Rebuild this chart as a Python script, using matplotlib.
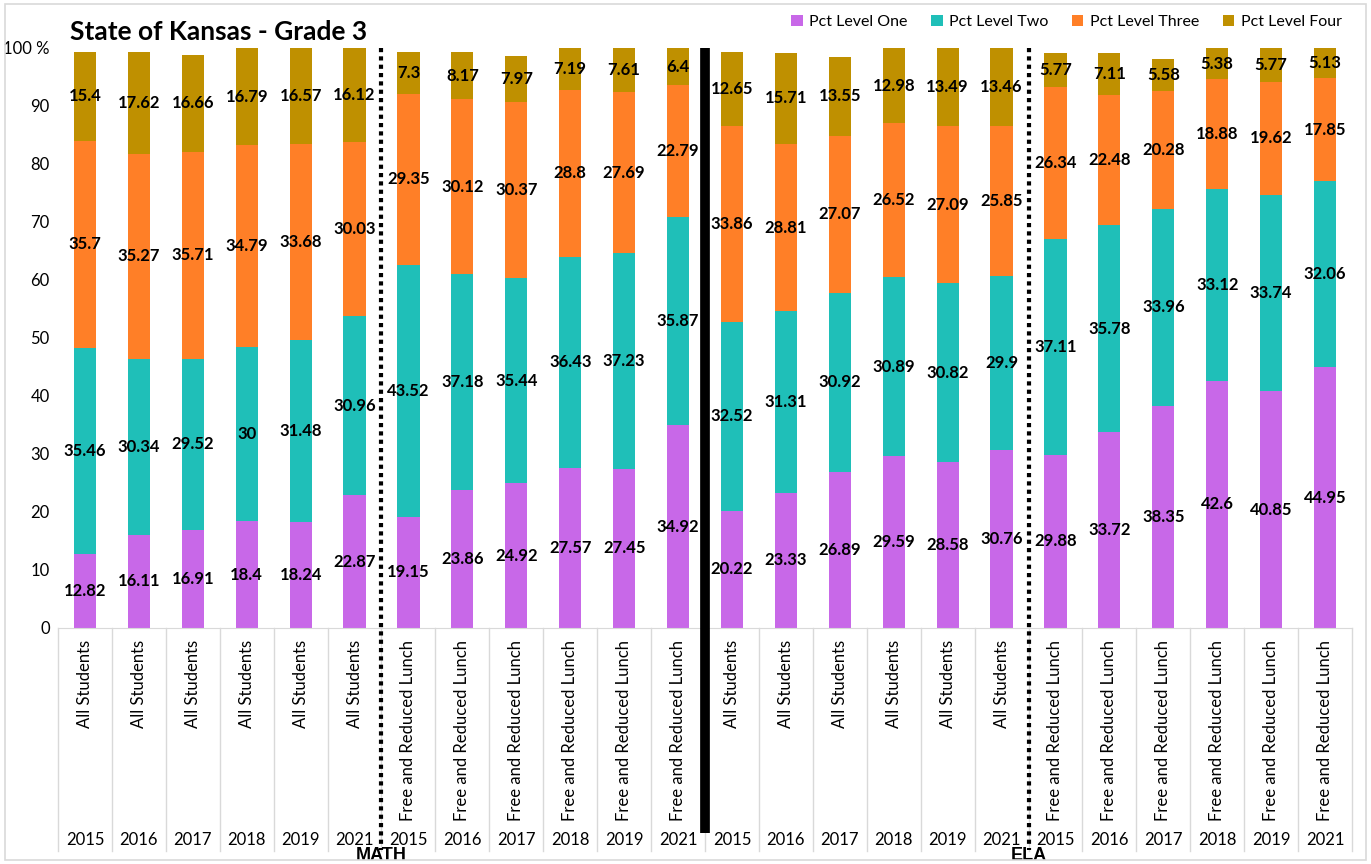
import matplotlib
matplotlib.use("Agg")
import matplotlib.pyplot as plt
import matplotlib.transforms as mtransforms
from matplotlib.patches import Rectangle
import numpy as np

plt.rcParams['font.family'] = ['Lato', 'DejaVu Sans']

groups = ["MATH", "ELA"]
subgroups = ["All Students", "Free and Reduced Lunch"]
years = ["2015", "2016", "2017", "2018", "2019", "2021"]

level_one = [12.82, 16.11, 16.91, 18.4, 18.24, 22.87, 19.15, 23.86, 24.92, 27.57, 27.45, 34.92,
             20.22, 23.33, 26.89, 29.59, 28.58, 30.76, 29.88, 33.72, 38.35, 42.6, 40.85, 44.95]
level_two = [35.46, 30.34, 29.52, 30, 31.48, 30.96, 43.52, 37.18, 35.44, 36.43, 37.23, 35.87,
             32.52, 31.31, 30.92, 30.89, 30.82, 29.9, 37.11, 35.78, 33.96, 33.12, 33.74, 32.06]
level_three = [35.7, 35.27, 35.71, 34.79, 33.68, 30.03, 29.35, 30.12, 30.37, 28.8, 27.69, 22.79,
               33.86, 28.81, 27.07, 26.52, 27.09, 25.85, 26.34, 22.48, 20.28, 18.88, 19.62, 17.85]
level_four = [15.4, 17.62, 16.66, 16.79, 16.57, 16.12, 7.3, 8.17, 7.97, 7.19, 7.61, 6.4,
              12.65, 15.71, 13.55, 12.98, 13.49, 13.46, 5.77, 7.11, 5.58, 5.38, 5.77, 5.13]

series_names = ["Pct Level One", "Pct Level Two", "Pct Level Three", "Pct Level Four"]
series = [level_one, level_two, level_three, level_four]
colors = ["#C868E8", "#1FBFB8", "#FF7F27", "#BF9000"]

W, H = 1371, 864
fig = plt.figure(figsize=(W / 100, H / 100), dpi=100)
fig.patches.append(Rectangle((5 / W, 4 / H), (W - 10) / W, (H - 8) / H, transform=fig.transFigure,
                             fill=False, edgecolor="#D9D9D9", linewidth=1.2))

left, right, top, bottom = 58, 1352, 48, 628
ax = fig.add_axes([left / W, (H - bottom) / H, (right - left) / W, (bottom - top) / H])

n = len(level_one)
x = np.arange(n)
bottoms = np.zeros(n)
for name, vals, c in zip(series_names, series, colors):
    bars = ax.bar(x, vals, 0.41, bottom=bottoms, color=c, label=name, zorder=2)
    ax.bar_label(bars, labels=[f"{v:g}" for v in vals], label_type="center",
                 fontsize=12, fontweight="bold", color="black")
    bottoms += np.array(vals)

ax.set_xlim(-0.5, n - 0.5)
ax.set_ylim(0, 100)
ax.set_yticks(range(0, 101, 10))
ax.set_yticklabels([str(v) for v in range(0, 100, 10)] + ["100 %"], fontsize=12)
ax.tick_params(axis="y", length=0, pad=6)
ax.set_xticks([])
for s in ["top", "right", "left"]:
    ax.spines[s].set_visible(False)
ax.spines["bottom"].set_color("#D9D9D9")

trans = mtransforms.blended_transform_factory(ax.transData, fig.transFigure)
def fy(ypix):
    return (H - ypix) / H

for i in range(n + 1):
    ax.plot([i - 0.5, i - 0.5], [fy(628), fy(851)], transform=trans, color="#D9D9D9",
            linewidth=1, clip_on=False)

labels_sub = []
labels_year = []
for g in groups:
    for sg in subgroups:
        for y in years:
            labels_sub.append(sg)
            labels_year.append(y)

for i in range(n):
    ax.text(i, fy(640), labels_sub[i], rotation=90, ha="center", va="top",
            transform=trans, fontsize=12)
    ax.text(i, fy(840), labels_year[i], ha="center", va="center", transform=trans, fontsize=12)

for gi, g in enumerate(groups):
    ax.text(gi * 12 + 5.5, fy(855), g, ha="center", va="center", transform=trans,
            fontsize=13, fontweight="bold", family=["Liberation Sans", "DejaVu Sans"])

# separators
for b in [5.5, 17.5]:
    ax.plot([b, b], [fy(48), fy(850)], transform=trans, color="black", linewidth=3,
            linestyle=(0, (1, 1)), clip_on=False, zorder=5)
ax.plot([11.5, 11.5], [fy(48), fy(833)], transform=trans, color="black", linewidth=7,
        clip_on=False, zorder=5, solid_capstyle="butt")

fig.text(70 / W, fy(32), "State of Kansas - Grade 3", fontsize=19, fontweight="bold",
         ha="left", va="center")

fig.legend(loc="center right", bbox_to_anchor=(1356 / W, fy(22)), ncol=4, frameon=False,
           fontsize=11.5, handlelength=0.7, handleheight=0.7, handletextpad=0.4, columnspacing=1.5)

fig.savefig("out.png", dpi=100)
